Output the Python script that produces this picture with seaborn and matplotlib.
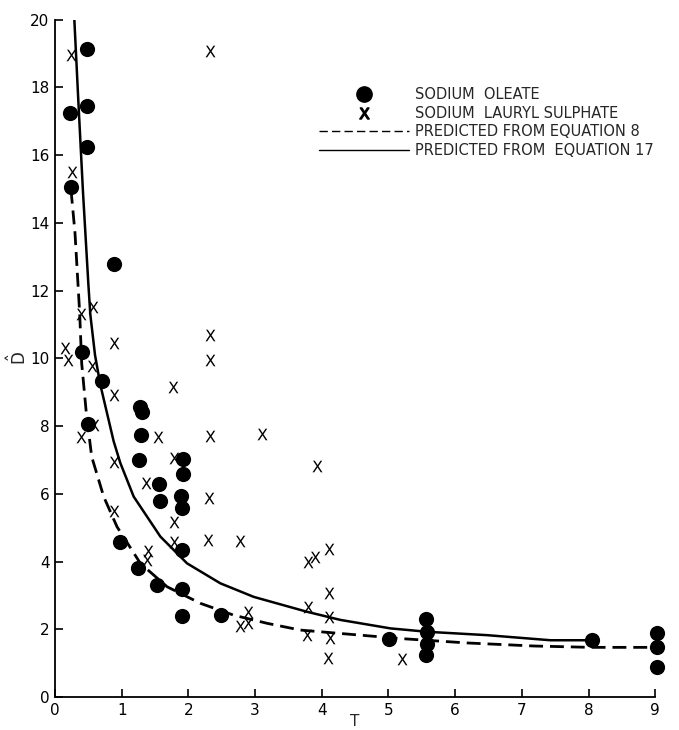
import matplotlib
matplotlib.use("Agg")
import matplotlib.pyplot as plt
from matplotlib.lines import Line2D
import seaborn as sns
import pandas as pd

# Sodium oleate (filled circles)
oleate_T = [0.48, 0.23, 0.48, 0.48, 0.24, 0.89, 0.41, 0.49, 0.71, 1.28, 1.30, 1.29, 1.26,
            1.56, 1.57, 1.92, 1.92, 1.89, 1.90, 1.90, 0.98, 1.25, 1.53, 1.90, 1.91, 2.49,
            5.01, 5.57, 5.58, 5.58, 5.57, 8.05, 9.03, 9.03, 9.03]
oleate_D = [19.15, 17.25, 17.45, 16.25, 15.05, 12.8, 10.2, 8.05, 9.32, 8.58, 8.43, 7.74, 7.0,
            6.28, 5.8, 7.03, 6.6, 5.95, 5.59, 4.34, 4.57, 3.80, 3.30, 3.18, 2.39, 2.44,
            1.73, 2.31, 1.93, 1.58, 1.24, 1.70, 1.90, 1.47, 0.88]

# Sodium lauryl sulphate (X)
lauryl_T = [0.24, 2.32, 0.26, 0.39, 0.57, 0.15, 0.19, 0.89, 2.32, 2.32, 0.56, 1.77, 0.89,
            0.39, 0.58, 1.55, 2.32, 3.11, 0.89, 1.79, 1.37, 3.93, 2.31, 0.89, 1.79, 1.78,
            2.29, 2.78, 1.39, 1.38, 3.79, 3.90, 4.11, 4.11, 3.79, 4.11, 2.89, 2.90, 2.78,
            3.78, 4.13, 4.10, 5.21]
lauryl_D = [18.97, 19.07, 15.49, 11.31, 11.52, 10.30, 9.96, 10.45, 10.70, 9.94, 9.78, 9.15, 8.92,
            7.69, 8.04, 7.69, 7.72, 7.76, 6.95, 7.07, 6.33, 6.83, 5.87, 5.50, 5.17, 4.58,
            4.64, 4.62, 4.32, 4.05, 3.98, 4.13, 4.36, 3.08, 2.65, 2.36, 2.52, 2.18, 2.11,
            1.83, 1.76, 1.17, 1.14]

# Predicted curves
eq8_T = [0.24, 0.30, 0.37, 0.40, 0.47, 0.55, 0.73, 0.93, 1.28, 1.68, 2.18, 2.68, 3.18,
         3.68, 4.28, 5.18, 6.18, 7.18, 8.03, 9.03]
eq8_D = [14.98, 13.7, 11.34, 9.86, 8.38, 7.10, 5.92, 5.03, 3.95, 3.26, 2.77, 2.42, 2.18,
         1.98, 1.88, 1.73, 1.60, 1.51, 1.47, 1.47]

eq17_T = [0.29, 0.35, 0.42, 0.50, 0.53, 0.60, 0.68, 0.88, 0.98, 1.18, 1.58, 1.98, 2.48, 2.98,
          3.78, 4.28, 5.03, 5.58, 6.48, 7.43, 8.03]
eq17_D = [20.0, 17.6, 14.9, 12.2, 11.29, 10.1, 9.22, 7.55, 6.91, 5.92, 4.74, 3.95, 3.36, 2.96,
          2.52, 2.28, 2.03, 1.93, 1.83, 1.68, 1.68]

legend_labels = ["SODIUM  OLEATE", "SODIUM  LAURYL SULPHATE",
                 "PREDICTED FROM EQUATION 8", "PREDICTED FROM  EQUATION 17"]
x_ticks = [0, 1, 2, 3, 4, 5, 6, 7, 8, 9]
y_ticks = [0, 2, 4, 6, 8, 10, 12, 14, 16, 18, 20]

sns.set_style("ticks")
plt.rcParams['font.family'] = ['DejaVu Sans']

fig = plt.figure(figsize=(6.79, 7.30), dpi=100)
ax = fig.add_axes([0.081, 0.045, 0.884, 0.928])

df_ol = pd.DataFrame({"T": oleate_T, "D": oleate_D})
df_la = pd.DataFrame({"T": lauryl_T, "D": lauryl_D})
df_e8 = pd.DataFrame({"T": eq8_T, "D": eq8_D})
df_e17 = pd.DataFrame({"T": eq17_T, "D": eq17_D})

sns.lineplot(data=df_e8, x="T", y="D", ax=ax, color="black", lw=2.0,
             sort=False, estimator=None)
ax.lines[-1].set_dashes([5, 2.5])
sns.lineplot(data=df_e17, x="T", y="D", ax=ax, color="black", lw=1.8,
             sort=False, estimator=None)
sns.scatterplot(data=df_ol, x="T", y="D", ax=ax, color="black", marker="o",
                s=120, edgecolor="black", linewidth=0, clip_on=False, zorder=3)
sns.scatterplot(data=df_la, x="T", y="D", ax=ax, color="black", marker=r"$\mathsf{X}$",
                s=70, linewidth=0, clip_on=False, zorder=3)

ax.set_xlim(0, 9)
ax.set_ylim(0, 20)
ax.set_xticks(x_ticks)
ax.set_yticks(y_ticks)
ax.tick_params(direction="in", length=6, width=1.2, labelsize=11, colors="black", pad=4)
ax.tick_params(axis="x", pad=4)
for s in ["top", "right"]:
    ax.spines[s].set_visible(False)
for s in ["left", "bottom"]:
    ax.spines[s].set_linewidth(1.3)
    ax.spines[s].set_color("black")

ax.set_xlabel("T", fontsize=11, labelpad=-3)
ax.set_ylabel(r"$\hat{\mathsf{D}}$", fontsize=12, labelpad=0)

handles = [
    Line2D([], [], color="black", marker="o", ls="none", markersize=11),
    Line2D([], [], color="black", marker=r"$\mathsf{X}$", ls="none", markersize=8),
    Line2D([], [], color="black", lw=1.0, dashes=[6, 3]),
    Line2D([], [], color="black", lw=1.0),
]
leg = ax.legend(handles, legend_labels, loc="upper left", bbox_to_anchor=(0.43, 0.909),
                frameon=False, fontsize=10.5, handlelength=6.2, handletextpad=0.4,
                labelspacing=0.24, borderaxespad=0)

fig.savefig("out.png", dpi=100)
